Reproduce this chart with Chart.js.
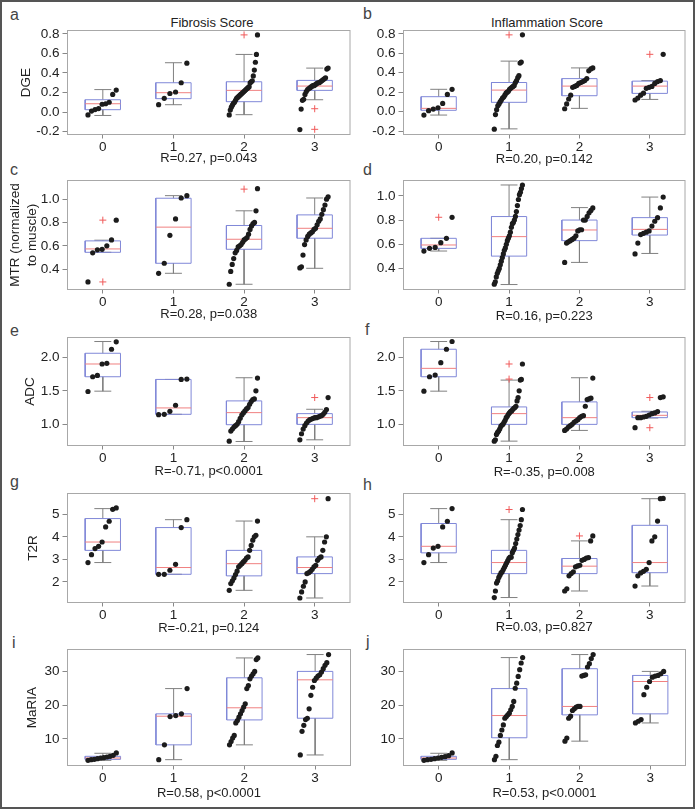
<!DOCTYPE html>
<html>
<head>
<meta charset="utf-8">
<script src="https://cdn.jsdelivr.net/npm/chart.js@4.4.1/dist/chart.umd.min.js"></script>
<style>
body { margin: 0; background: #fff; }
#page { position: relative; width: 695px; height: 809px; overflow: hidden; font-family: "Liberation Sans", Arial, sans-serif; }
#frame { position: absolute; left: 0; top: 0; width: 695px; height: 809px; box-sizing: border-box; border: 2px solid #555; pointer-events: none; }
canvas { position: absolute; }
.lbl { position: absolute; font-size: 16px; line-height: 16px; color: #444; }
.ttl { position: absolute; font-size: 13px; line-height: 13px; color: #222; transform: translateX(-50%); white-space: nowrap; }
</style>
</head>
<body>
<div id="page">
  <div class="ttl" style="left:212px; top:15.5px">Fibrosis Score</div>
  <div class="ttl" style="left:547px; top:15.5px">Inflammation Score</div>
  <div class="lbl" style="left:10px; top:7px">a</div>
  <div class="lbl" style="left:363px; top:5.5px">b</div>
  <div class="lbl" style="left:10px; top:161.5px">c</div>
  <div class="lbl" style="left:363px; top:161.5px">d</div>
  <div class="lbl" style="left:10px; top:323px">e</div>
  <div class="lbl" style="left:365px; top:321.5px">f</div>
  <div class="lbl" style="left:10px; top:474px">g</div>
  <div class="lbl" style="left:363px; top:476.5px">h</div>
  <div class="lbl" style="left:12px; top:634.5px">i</div>
  <div class="lbl" style="left:366px; top:633.5px">j</div>
  <div id="frame"></div>
</div>
<script>
// x categories (score)
const groups = ['0', '1', '2', '3'];
const xTicks = [0, 1, 2, 3];

// y tick labels for each measure
const dgeTicks = [-0.2, 0, 0.2, 0.4, 0.6, 0.8];
const mtrTicks = [0.4, 0.6, 0.8, 1.0];
const adcTicks = [1.0, 1.5, 2.0];
const t2rTicks = [2, 3, 4, 5];
const mariaTicks = [10, 20, 30];

// box rows are [lower whisker, q1, median, q3, upper whisker]

// a: DGE vs fibrosis
const dgeFibPoints = [
  [-0.03, 0.01, 0.025, 0.035, 0.08, 0.085, 0.1, 0.18, 0.225],
  [0.075, 0.14, 0.19, 0.205, 0.3, 0.5],
  [-0.03, 0.02, 0.05, 0.07, 0.09, 0.1, 0.12, 0.14, 0.15, 0.16, 0.17, 0.18, 0.19, 0.2, 0.21, 0.22, 0.23, 0.24, 0.25, 0.26, 0.3, 0.31, 0.32, 0.37, 0.43, 0.51, 0.59, 0.79],
  [-0.18, 0.03, 0.12, 0.13, 0.18, 0.21, 0.23, 0.24, 0.25, 0.26, 0.27, 0.27, 0.28, 0.29, 0.3, 0.3, 0.31, 0.32, 0.33, 0.34, 0.35, 0.44, 0.45]
];
const dgeFibBoxes = [[-0.035, 0.024, 0.085, 0.126, 0.23], [0.075, 0.137, 0.198, 0.30, 0.505], [-0.027, 0.106, 0.222, 0.31, 0.59], [0.126, 0.222, 0.266, 0.324, 0.45]];
const dgeFibOutliers = [[], [], [0.79], [0.034, -0.177]];

// b: DGE vs inflammation
const dgeInfPoints = [
  [-0.035, 0.01, 0.027, 0.04, 0.085, 0.177, 0.23],
  [-0.18, -0.03, 0.02, 0.06, 0.08, 0.1, 0.12, 0.14, 0.15, 0.17, 0.19, 0.2, 0.21, 0.23, 0.24, 0.25, 0.26, 0.27, 0.3, 0.32, 0.35, 0.37, 0.5, 0.51, 0.79],
  [0.03, 0.08, 0.13, 0.17, 0.25, 0.26, 0.27, 0.29, 0.3, 0.31, 0.32, 0.34, 0.42, 0.44, 0.45],
  [0.12, 0.14, 0.17, 0.19, 0.24, 0.25, 0.26, 0.29, 0.31, 0.32, 0.59]
];
const dgeInfBoxes = [[-0.035, 0.014, 0.034, 0.154, 0.23], [-0.177, 0.096, 0.222, 0.30, 0.52], [0.034, 0.164, 0.263, 0.34, 0.45], [0.126, 0.188, 0.263, 0.314, 0.32]];
const dgeInfOutliers = [[], [0.79], [], [0.59]];

// c: MTR vs fibrosis
const mtrFibPoints = [
  [0.29, 0.54, 0.565, 0.57, 0.6, 0.65, 0.82],
  [0.364, 0.45, 0.69, 0.83, 1.01, 1.03],
  [0.27, 0.38, 0.44, 0.49, 0.54, 0.56, 0.59, 0.6, 0.61, 0.63, 0.65, 0.66, 0.67, 0.7, 0.74, 0.77, 0.79, 0.8, 0.9, 1.09],
  [0.41, 0.42, 0.52, 0.61, 0.65, 0.68, 0.7, 0.71, 0.72, 0.74, 0.75, 0.78, 0.81, 0.83, 0.87, 0.91, 0.95, 1.0, 1.02]
];
const mtrFibBoxes = [[0.544, 0.544, 0.573, 0.642, 0.648], [0.364, 0.45, 0.76, 1.008, 1.03], [0.27, 0.57, 0.656, 0.774, 0.90], [0.407, 0.665, 0.75, 0.865, 1.01]];
const mtrFibOutliers = [[0.82, 0.29], [], [1.086], []];

// d: MTR vs inflammation
const mtrInfPoints = [
  [0.544, 0.566, 0.574, 0.613, 0.649, 0.823],
  [0.27, 0.29, 0.33, 0.36, 0.38, 0.4, 0.43, 0.46, 0.49, 0.52, 0.55, 0.57, 0.6, 0.63, 0.65, 0.67, 0.7, 0.74, 0.77, 0.78, 0.8, 0.83, 0.87, 0.92, 0.97, 1.01, 1.03, 1.06, 1.09],
  [0.45, 0.61, 0.62, 0.63, 0.64, 0.65, 0.67, 0.71, 0.72, 0.72, 0.8, 0.8, 0.83, 0.86, 0.88, 0.9],
  [0.52, 0.61, 0.68, 0.69, 0.7, 0.71, 0.75, 0.79, 0.82, 0.9, 0.99]
];
const mtrInfBoxes = [[0.544, 0.566, 0.594, 0.649, 0.649], [0.267, 0.502, 0.663, 0.829, 1.09], [0.45, 0.63, 0.718, 0.80, 0.903], [0.524, 0.676, 0.723, 0.82, 0.99]];
const mtrInfOutliers = [[0.823], [], [], []];

// e: ADC vs fibrosis
const adcFibPoints = [
  [1.49, 1.71, 1.73, 1.9, 1.91, 2.12, 2.23],
  [1.145, 1.15, 1.195, 1.285, 1.67, 1.675],
  [0.75, 0.9, 0.93, 0.96, 0.98, 1.0, 1.04, 1.09, 1.14, 1.17, 1.2, 1.23, 1.25, 1.3, 1.34, 1.37, 1.38, 1.5, 1.69],
  [0.77, 0.86, 0.93, 0.98, 1.02, 1.05, 1.07, 1.08, 1.09, 1.1, 1.1, 1.11, 1.12, 1.13, 1.15, 1.18, 1.22, 1.4]
];
const adcFibBoxes = [[1.495, 1.71, 1.90, 2.06, 2.235], [1.15, 1.15, 1.245, 1.67, 1.67], [0.745, 0.995, 1.175, 1.35, 1.695], [0.77, 1.0, 1.10, 1.16, 1.225]];
const adcFibOutliers = [[], [], [], [1.40]];

// f: ADC vs inflammation
const adcInfPoints = [
  [1.495, 1.71, 1.735, 1.92, 2.12, 2.235],
  [0.75, 0.77, 0.85, 0.88, 0.9, 0.93, 0.97, 0.99, 1.0, 1.03, 1.06, 1.1, 1.12, 1.15, 1.17, 1.19, 1.2, 1.22, 1.24, 1.25, 1.27, 1.35, 1.4, 1.5, 1.66, 1.67, 1.9],
  [0.91, 0.93, 0.96, 0.98, 1.0, 1.03, 1.05, 1.07, 1.1, 1.12, 1.13, 1.27, 1.37, 1.38, 1.39, 1.69],
  [0.95, 1.1, 1.1, 1.11, 1.12, 1.14, 1.16, 1.17, 1.19, 1.4, 1.41]
];
const adcInfBoxes = [[1.495, 1.71, 1.835, 2.12, 2.235], [0.75, 1.0, 1.16, 1.26, 1.66], [0.91, 1.0, 1.10, 1.335, 1.695], [1.095, 1.10, 1.135, 1.185, 1.195]];
const adcInfOutliers = [[], [1.90, 1.675], [], [1.40, 0.95]];

// g: T2R vs fibrosis
const t2rFibPoints = [
  [2.86, 3.21, 3.48, 3.58, 3.77, 4.44, 4.69, 5.22, 5.28],
  [2.34, 2.34, 2.52, 2.78, 4.41, 4.76],
  [1.63, 1.93, 2.05, 2.18, 2.33, 2.48, 2.67, 2.74, 2.81, 2.89, 2.96, 3.06, 3.11, 3.4, 3.62, 3.85, 4.0, 4.07, 4.7],
  [1.29, 1.56, 1.81, 2.0, 2.37, 2.41, 2.47, 2.56, 2.67, 2.74, 2.96, 3.06, 3.11, 3.4, 3.77, 4.0, 5.69]
];
const t2rFibBoxes = [[2.86, 3.40, 3.77, 4.81, 5.25], [2.34, 2.34, 2.64, 4.41, 4.76], [1.63, 2.27, 2.81, 3.40, 4.70], [1.29, 2.37, 2.64, 3.11, 4.0]];
const t2rFibOutliers = [[], [], [], [5.69]];

// h: T2R vs inflammation
const t2rInfPoints = [
  [2.86, 3.21, 3.5, 3.58, 4.44, 4.69, 5.25],
  [1.31, 1.6, 1.95, 2.05, 2.2, 2.3, 2.4, 2.45, 2.55, 2.65, 2.75, 2.85, 2.95, 3.05, 3.1, 3.1, 3.3, 3.4, 3.5, 3.7, 3.9, 4.1, 4.3, 4.5, 4.76, 5.21],
  [1.6, 1.7, 2.27, 2.37, 2.45, 2.67, 2.71, 2.74, 2.96, 3.0, 3.06, 3.08, 3.82, 4.04],
  [1.82, 2.27, 2.4, 2.47, 2.56, 2.86, 3.82, 4.0, 4.7, 5.69, 5.7]
];
const t2rInfBoxes = [[2.86, 3.29, 3.58, 4.59, 5.25], [1.31, 2.37, 2.86, 3.40, 4.76], [1.60, 2.37, 2.70, 3.04, 3.82], [1.82, 2.41, 2.86, 4.51, 5.69]];
const t2rInfOutliers = [[], [5.21], [4.04], []];

// i: MaRIA vs fibrosis
const mariaFibPoints = [
  [3.6, 3.8, 3.9, 4.1, 4.3, 4.4, 4.6, 4.8, 5.1, 5.8],
  [3.8, 8.2, 16.6, 16.9, 17.4, 24.9],
  [8.2, 9.2, 10.2, 11.0, 14.7, 15.4, 16.4, 17.4, 18.4, 19.4, 20.4, 24.9, 25.8, 27.8, 28.6, 29.3, 30.0, 33.5, 34.0],
  [5.2, 12.2, 14.0, 15.7, 16.1, 18.9, 22.9, 25.3, 27.3, 28.0, 28.6, 29.0, 29.8, 30.8, 31.8, 32.6, 35.0]
];
const mariaFibBoxes = [[3.6, 3.9, 4.3, 4.8, 5.7], [3.8, 8.2, 16.7, 17.4, 24.9], [8.2, 15.6, 19.2, 28.1, 34.0], [5.2, 16.1, 27.5, 30.0, 35.0]];
const mariaFibOutliers = [[], [], [], []];

// j: MaRIA vs inflammation
const mariaInfPoints = [
  [3.6, 3.8, 3.9, 4.1, 4.3, 4.5, 4.7, 5.0, 5.8],
  [3.8, 4.8, 8.0, 9.0, 11.0, 12.6, 14.1, 16.1, 16.6, 17.1, 17.6, 18.6, 19.6, 21.1, 25.0, 26.5, 28.5, 30.5, 32.5, 34.1],
  [9.3, 10.2, 16.1, 16.7, 18.4, 18.9, 19.4, 19.6, 19.6, 28.6, 28.8, 29.0, 31.3, 32.3, 33.8, 35.0],
  [14.7, 15.2, 15.7, 23.1, 25.3, 27.0, 28.3, 28.6, 28.8, 29.3, 30.0]
];
const mariaInfBoxes = [[3.6, 3.9, 4.3, 4.8, 5.7], [3.8, 10.3, 16.9, 24.9, 34.1], [9.3, 17.1, 19.6, 30.8, 35.0], [14.7, 17.4, 27.0, 28.8, 30.0]];
const mariaInfOutliers = [[], [], [], []];

const panels = [
  { col: 0, top: 30.5, bottom: 134.5, pts: dgeFibPoints, box: dgeFibBoxes, out: dgeFibOutliers, yTicks: dgeTicks, dec: 1, yMin: -0.23, yMax: 0.835, yTitle: 'DGE', yTitleX: 26.5, stat: 'R=0.27, p=0.043', statDy: 23.5 },
  { col: 1, top: 30.5, bottom: 134.5, pts: dgeInfPoints, box: dgeInfBoxes, out: dgeInfOutliers, yTicks: dgeTicks, dec: 1, yMin: -0.235, yMax: 0.835, stat: 'R=0.20, p=0.142', statDy: 24.5 },
  { col: 0, top: 180.5, bottom: 289.5, pts: mtrFibPoints, box: mtrFibBoxes, out: mtrFibOutliers, yTicks: mtrTicks, dec: 1, yMin: 0.225, yMax: 1.16, yTitle: ['MTR (normalized', 'to muscle)'], yTitleX: 15, stat: 'R=0.28, p=0.038', statDy: 25 },
  { col: 1, top: 180.5, bottom: 289.5, pts: mtrInfPoints, box: mtrInfBoxes, out: mtrInfOutliers, yTicks: mtrTicks, dec: 1, yMin: 0.226, yMax: 1.127, stat: 'R=0.16, p=0.223', statDy: 26.5 },
  { col: 0, top: 337.5, bottom: 445.5, pts: adcFibPoints, box: adcFibBoxes, out: adcFibOutliers, yTicks: adcTicks, dec: 1, yMin: 0.685, yMax: 2.295, yTitle: 'ADC', yTitleX: 30, stat: 'R=-0.71, p<0.0001', statDy: 26 },
  { col: 1, top: 337.5, bottom: 445.5, pts: adcInfPoints, box: adcInfBoxes, out: adcInfOutliers, yTicks: adcTicks, dec: 1, yMin: 0.685, yMax: 2.295, stat: 'R=-0.35, p=0.008', statDy: 27 },
  { col: 0, top: 493.5, bottom: 602.5, pts: t2rFibPoints, box: t2rFibBoxes, out: t2rFibOutliers, yTicks: t2rTicks, dec: 0, yMin: 1.09, yMax: 5.92, yTitle: 'T2R', yTitleX: 33.5, stat: 'R=-0.21, p=0.124', statDy: 26 },
  { col: 1, top: 493.5, bottom: 602.5, pts: t2rInfPoints, box: t2rInfBoxes, out: t2rInfOutliers, yTicks: t2rTicks, dec: 0, yMin: 1.09, yMax: 5.92, stat: 'R=0.03, p=0.827', statDy: 25 },
  { col: 0, top: 649.5, bottom: 765.5, pts: mariaFibPoints, box: mariaFibBoxes, out: mariaFibOutliers, yTicks: mariaTicks, dec: 0, yMin: 2.07, yMax: 36.5, yTitle: 'MaRIA', yTitleX: 32.5, stat: 'R=0.58, p<0.0001', statDy: 27.5 },
  { col: 1, top: 649.5, bottom: 765.5, pts: mariaInfPoints, box: mariaInfBoxes, out: mariaInfOutliers, yTicks: mariaTicks, dec: 0, yMin: 2.07, yMax: 36.5, stat: 'R=0.53, p<0.0001', statDy: 27.5 }
];

const FONT = '"Liberation Sans", Arial, sans-serif';
const BOX_W = 0.25, CAP_W = 0.12;
const cols = [
  { left: 0, width: 355, plotLeft: 67.5, plotRight: 350.5 },
  { left: 355, width: 335, plotLeft: 403.5, plotRight: 685.5 }
];

// frame around the plot area
const framePlugin = {
  id: 'frame',
  beforeDatasetsDraw(chart) {
    const a = chart.chartArea, ctx = chart.ctx;
    ctx.save();
    ctx.strokeStyle = '#a8a8a8';
    ctx.lineWidth = 1;
    ctx.strokeRect(a.left, a.top, a.right - a.left, a.bottom - a.top);
    ctx.restore();
  }
};

function makeDatasets(p) {
  const dots = [], outs = [], box = [], med = [], whisk = [];
  p.pts.forEach((vals, g) => {
    const n = vals.length;
    vals.forEach((v, i) => dots.push({ x: g - 0.21 + 0.4 * (n > 1 ? i / (n - 1) : 0.5), y: v }));
  });
  p.out.forEach((vals, g) => vals.forEach(v => outs.push({ x: g, y: v })));
  p.box.forEach(([lo, q1, md, q3, hi], g) => {
    box.push({ x: g - BOX_W, y: q1 }, { x: g + BOX_W, y: q1 }, { x: g + BOX_W, y: q3 }, { x: g - BOX_W, y: q3 }, { x: g - BOX_W, y: q1 }, { x: g, y: null });
    med.push({ x: g - BOX_W, y: md }, { x: g + BOX_W, y: md }, { x: g, y: null });
    whisk.push(
      { x: g, y: q3 }, { x: g, y: hi }, { x: g, y: null },
      { x: g - CAP_W, y: hi }, { x: g + CAP_W, y: hi }, { x: g, y: null },
      { x: g, y: q1 }, { x: g, y: lo }, { x: g, y: null },
      { x: g - CAP_W, y: lo }, { x: g + CAP_W, y: lo }, { x: g, y: null }
    );
  });
  return [
    { data: dots, showLine: false, pointRadius: 2.6, pointBackgroundColor: '#1c1c1c', pointBorderWidth: 0 },
    { data: outs, showLine: false, pointStyle: 'cross', pointRadius: 3.5, pointBorderColor: '#f05a5a', pointBorderWidth: 1 },
    { data: med, showLine: true, borderColor: '#f08080', borderWidth: 1, pointRadius: 0 },
    { data: box, showLine: true, borderColor: '#8088d8', borderWidth: 1, pointRadius: 0 },
    { data: whisk, showLine: true, borderColor: '#808080', borderWidth: 1, pointRadius: 0 }
  ];
}

const page = document.getElementById('page');

panels.forEach(p => {
  const c = cols[p.col];
  const canvasTop = Math.floor(p.top) - 14;
  const canvasH = Math.ceil(p.bottom - canvasTop + 40);
  const xAxisH = canvasH - (p.bottom - canvasTop);
  const yAxisW = c.plotLeft - c.left;

  const cv = document.createElement('canvas');
  cv.width = c.width;
  cv.height = canvasH;
  cv.style.left = c.left + 'px';
  cv.style.top = canvasTop + 'px';
  page.insertBefore(cv, document.getElementById('frame'));

  const multi = Array.isArray(p.yTitle);
  const yLine = multi ? 1.3 : 1.2;

  new Chart(cv.getContext('2d'), {
    type: 'scatter',
    data: { datasets: makeDatasets(p) },
    options: {
      responsive: false,
      animation: false,
      devicePixelRatio: 1,
      layout: { padding: { top: p.top - canvasTop, right: c.left + c.width - c.plotRight, left: 0, bottom: 0 } },
      plugins: { legend: { display: false }, tooltip: { enabled: false } },
      scales: {
        x: {
          type: 'linear',
          min: -0.5,
          max: 3.5,
          afterBuildTicks: s => { s.ticks = xTicks.map(v => ({ value: v })); },
          afterFit: s => { s.height = xAxisH; },
          ticks: { callback: v => groups[v], font: { family: FONT, size: 13.5 }, color: '#222', padding: 1, maxRotation: 0, autoSkip: false },
          grid: { drawOnChartArea: false, drawTicks: true, tickLength: 4, color: '#888' },
          border: { display: false },
          title: { display: true, text: p.stat, font: { family: FONT, size: 13, lineHeight: 1.2 }, color: '#222', padding: { top: 0, bottom: xAxisH - p.statDy - 7.8 } }
        },
        y: {
          type: 'linear',
          min: p.yMin,
          max: p.yMax,
          afterBuildTicks: s => { s.ticks = p.yTicks.map(v => ({ value: v })); },
          afterFit: s => { s.width = yAxisW; },
          ticks: { callback: v => Number(v).toFixed(p.dec), font: { family: FONT, size: 13.5 }, color: '#222', padding: 3 },
          grid: { drawOnChartArea: false, drawTicks: true, tickLength: 5, color: '#888' },
          border: { display: false },
          title: p.yTitle ? {
            display: true, text: p.yTitle, color: '#222',
            font: { family: FONT, size: 13.5, lineHeight: yLine },
            padding: { top: p.yTitleX - 13.5 * yLine / 2, bottom: 0 }
          } : { display: false }
        }
      }
    },
    plugins: [framePlugin]
  });
});
</script>
</body>
</html>
